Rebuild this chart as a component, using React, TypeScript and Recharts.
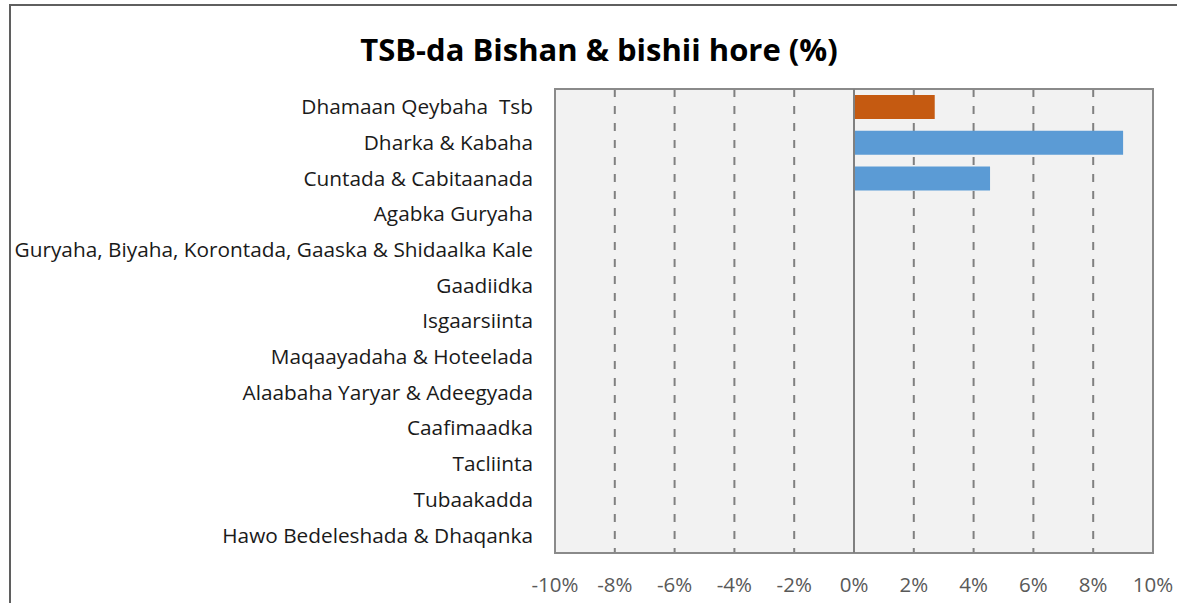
import React from "react";
import {
  BarChart,
  Bar,
  Cell,
  XAxis,
  YAxis,
  CartesianGrid,
  ReferenceLine,
  ReferenceArea,
} from "recharts";

// sectors, top to bottom
const sectors = [
  "Dhamaan Qeybaha  Tsb",
  "Dharka & Kabaha",
  "Cuntada & Cabitaanada",
  "Agabka Guryaha",
  "Guryaha, Biyaha, Korontada, Gaaska & Shidaalka Kale",
  "Gaadiidka",
  "Isgaarsiinta",
  "Maqaayadaha & Hoteelada",
  "Alaabaha Yaryar & Adeegyada",
  "Caafimaadka",
  "Tacliinta",
  "Tubaakadda",
  "Hawo Bedeleshada & Dhaqanka",
];

// change vs previous month, percent
const changes = [2.7, 9.0, 4.55, 0, 0, 0, 0, 0, 0, 0, 0, 0, 0];

const xTicks = [-10, -8, -6, -4, -2, 0, 2, 4, 6, 8, 10];

const TOTAL = "Dhamaan Qeybaha  Tsb";

const data = sectors.map((name, i) => ({ name, value: changes[i] }));

const FONT = "'Open Sans', 'Noto Sans', sans-serif";

// keeps the double space in the labels
function SectorTick(props: any) {
  const { x, y, payload } = props;
  return (
    <text
      x={x}
      y={y}
      dy="0.355em"
      textAnchor="end"
      fill="#1a1a1a"
      fontSize={20.8}
      fontFamily={FONT}
      style={{ whiteSpace: "pre" }}
    >
      {payload.value}
    </text>
  );
}

export default function App() {
  return (
    <div style={{ position: "absolute", left: 0, top: 0, width: 1177, height: 603, overflow: "hidden" }}>
      <div
        style={{
          position: "absolute",
          left: 9,
          top: 4,
          width: 1190,
          height: 640,
          border: "2px solid #5f5f5f",
          boxSizing: "border-box",
        }}
      />
      <div
        style={{
          position: "absolute",
          left: 9,
          width: 1180,
          top: 28,
          textAlign: "center",
          fontFamily: FONT,
          fontWeight: 700,
          fontSize: 31,
          color: "#000",
          whiteSpace: "pre",
        }}
      >
        TSB-da Bishan &amp; bishii hore (%)
      </div>
      <div style={{ position: "absolute", left: 0, top: 0 }}>
        <BarChart
          width={1177}
          height={603}
          data={data}
          layout="vertical"
          margin={{ top: 89, right: 24, bottom: 20, left: 0 }}
          barSize={24}
        >
          <CartesianGrid
            horizontal={false}
            fill="#f2f2f2"
            stroke="#808080"
            strokeWidth={2}
            strokeDasharray="8 9"
          />
          <XAxis
            type="number"
            domain={[-10, 10]}
            ticks={xTicks}
            tickFormatter={(v: number) => `${v}%`}
            axisLine={false}
            tickLine={false}
            tickMargin={18}
            height={30}
            tick={{ fill: "#595959", fontSize: 20.5, fontFamily: FONT }}
          />
          <YAxis
            type="category"
            dataKey="name"
            width={555}
            axisLine={false}
            tickLine={false}
            tickMargin={16}
            interval={0}
            tick={<SectorTick />}
          />
          <ReferenceArea
            x1={-10}
            x2={10}
            fill="none"
            stroke="#8a8a8a"
            strokeWidth={2}
            ifOverflow="extendDomain"
          />
          <ReferenceLine x={0} stroke="#808080" strokeWidth={2} />
          <Bar dataKey="value" isAnimationActive={false}>
            {data.map((d) => (
              <Cell key={d.name} fill={d.name === TOTAL ? "#c55a11" : "#5b9bd5"} />
            ))}
          </Bar>
        </BarChart>
      </div>
    </div>
  );
}
